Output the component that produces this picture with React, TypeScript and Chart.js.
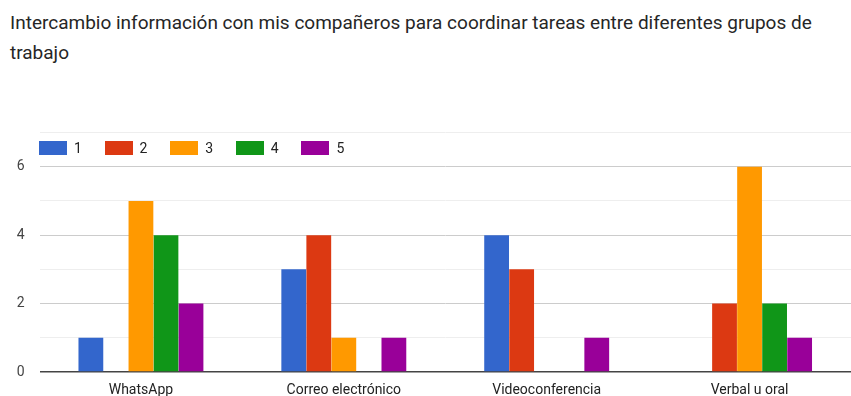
import React, { useEffect, useRef } from "react";
import { Chart, registerables } from "chart.js";

Chart.register(...registerables);

const TITLE_LINES = [
  "Intercambio información con mis compañeros para coordinar tareas entre diferentes grupos de",
  "trabajo",
];
const CATEGORIES = ["WhatsApp", "Correo electrónico", "Videoconferencia", "Verbal u oral"];
const SERIES_LABELS = ["1", "2", "3", "4", "5"];
const SERIES_COLORS = ["#3366cc", "#dc3912", "#ff9900", "#109618", "#990099"];
const S1 = [1, 3, 4, 0];
const S2 = [0, 4, 3, 2];
const S3 = [5, 1, 0, 6];
const S4 = [4, 0, 0, 2];
const S5 = [2, 1, 1, 1];
const SERIES_VALUES = [S1, S2, S3, S4, S5];
const Y_MAX = 7;

export default function App() {
  const ref = useRef<HTMLCanvasElement | null>(null);

  useEffect(() => {
    if (!ref.current) return;
    const chart = new Chart(ref.current, {
      type: "bar",
      data: {
        labels: CATEGORIES,
        datasets: SERIES_LABELS.map((l, i) => ({
          label: l,
          data: SERIES_VALUES[i],
          backgroundColor: SERIES_COLORS[i],
          borderWidth: 0,
          barPercentage: 0.99,
          categoryPercentage: 0.617,
        })),
      },
      options: {
        responsive: false,
        animation: false,
        layout: { padding: { top: 132.5, left: 0, right: 0, bottom: 0 } },
        plugins: {
          legend: { display: false },
          tooltip: { enabled: false },
          title: { display: false },
        },
        scales: {
          x: {
            grid: { display: false, drawTicks: false },
            border: { display: false },
            ticks: {
              color: "#222222",
              font: { family: "Roboto", size: 14 },
              padding: 10,
              maxRotation: 0,
            },
            afterFit: (s: any) => {
              s.height = 24;
            },
          },
          y: {
            min: 0,
            max: Y_MAX,
            border: { display: false },
            grid: {
              drawTicks: false,
              color: (ctx: any) =>
                ctx.tick && ctx.tick.value === 0
                  ? "#444444"
                  : ctx.tick && ctx.tick.value % 2 === 1
                  ? "#eeeeee"
                  : "#cccccc",
              lineWidth: (ctx: any) => (ctx.tick && ctx.tick.value === 0 ? 1.5 : 1),
            },
            ticks: {
              stepSize: 1,
              color: "#444444",
              font: { family: "Roboto", size: 14 },
              padding: 15,
              callback: (v: any) => (Number(v) % 2 === 0 && Number(v) < Y_MAX ? String(v) : ""),
            },
            afterFit: (s: any) => {
              s.width = 39.5;
            },
          },
        },
      },
    });
    return () => chart.destroy();
  }, []);

  return (
    <div
      style={{
        position: "fixed",
        left: 0,
        top: 0,
        width: 851,
        height: 396,
        background: "#ffffff",
        fontFamily: "Roboto, sans-serif",
      }}
    >
      <div
        style={{
          position: "absolute",
          left: 10,
          top: 8,
          fontSize: 19,
          lineHeight: "30px",
          color: "#262626",
          whiteSpace: "nowrap",
        }}
      >
        {TITLE_LINES.map((t, i) => (
          <div key={i}>{t}</div>
        ))}
      </div>
      <canvas ref={ref} width={851} height={396} style={{ position: "absolute", left: 0, top: 0 }} />
      {SERIES_LABELS.map((l, i) => (
        <div
          key={l}
          style={{
            position: "absolute",
            left: 39 + i * 65.6,
            top: 140,
            height: 16,
            display: "flex",
            alignItems: "center",
            fontSize: 14,
            color: "#222222",
          }}
        >
          <span
            style={{
              display: "inline-block",
              width: 28,
              height: 14,
              background: SERIES_COLORS[i],
              marginRight: 7,
            }}
          />
          <span>{l}</span>
        </div>
      ))}
    </div>
  );
}
